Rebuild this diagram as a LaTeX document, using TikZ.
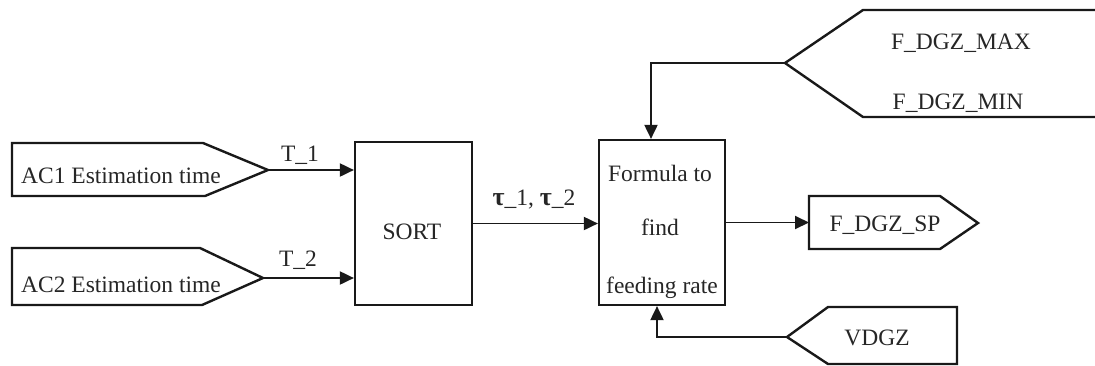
\documentclass[tikz,border=0pt]{standalone}
\usepackage{fontspec}
\setmainfont{Liberation Serif}
\usetikzlibrary{arrows.meta}
\begin{document}
\begin{tikzpicture}[x=1pt,y=-1pt,
  outline/.style={draw=black!90, line width=2.4pt, line join=miter},
  conn/.style={draw=black!90, line width=1.9pt, -{Triangle[length=14pt,width=13pt]}},
  lbl/.style={font=\fontsize{23.5}{27}\selectfont, inner sep=0pt, text=black!85},
  blk/.style={draw=black!90, line width=2.2pt, inner sep=0pt}]
\useasboundingbox (0,0) rectangle (1095,365);

% input tags on the left
\draw[outline] (12,143) -- (203,143) -- (268,170) coordinate (ac1tip)
  -- (205,196) -- (12,196) -- cycle;
\node[lbl] (ac1) at (121,176) {AC1 Estimation time};
\draw[outline] (12,248) -- (200,248) -- (263,278) coordinate (ac2tip)
  -- (202,305) -- (12,305) -- cycle;
\node[lbl] (ac2) at (121,285) {AC2 Estimation time};

% processing blocks
\node[blk, minimum width=117pt, minimum height=163pt] (sort) at (413.5,223.5) {};
\node[lbl] (sorttxt) at (412,232) {SORT};
\node[blk, minimum width=126pt, minimum height=165pt] (formula) at (662,222.5) {};
\node[lbl] (ftxt1) at (660,173) {Formula to};
\node[lbl] (ftxt2) at (660,227) {find};
\node[lbl] (ftxt3) at (662,288) {feeding rate};

% limits tag (top right)
\draw[outline] (1095,10) -- (863,10) -- (785,63) coordinate (maxtip)
  -- (863,117) -- (1095,117);
\node[lbl] (fmax) at (961,43) {F\_DGZ\_MAX};
\node[lbl] (fmin) at (958,103) {F\_DGZ\_MIN};

% VDGZ tag (bottom right)
\draw[outline] (957,307) -- (828,307) -- (787,337) coordinate (vtip)
  -- (828,364) -- (957,364) -- cycle;
\node[lbl] (vdgz) at (877,338) {VDGZ};

% output tag
\draw[outline] (809,196) -- (940,196) -- (978,223) -- (940,249) -- (809,249) -- cycle;
\coordinate (spin) at (809,222.5);
\node[lbl] (sp) at (885,225) {F\_DGZ\_SP};

% connectors
\draw[conn] (ac1tip) -- (ac1tip -| sort.west);
\draw[conn] (ac2tip) -- (ac2tip -| sort.west);
\draw[conn] (sort.east) -- (sort.east -| formula.west);
\draw[conn] (formula.east) -- (spin);
\draw[conn] (maxtip) -| ([xshift=-11pt]formula.north);
\draw[conn] (vtip) -| ([xshift=-5pt]formula.south);

% connector labels
\node[lbl] (t1) at (300,155) {T\_1};
\node[lbl] (t2) at (298,260) {T\_2};
\node[lbl] (tau) at (534,200) {{\bfseries\fontsize{26}{28}\selectfont τ}\_1, {\bfseries\fontsize{26}{28}\selectfont τ}\_2};
\end{tikzpicture}
\end{document}
